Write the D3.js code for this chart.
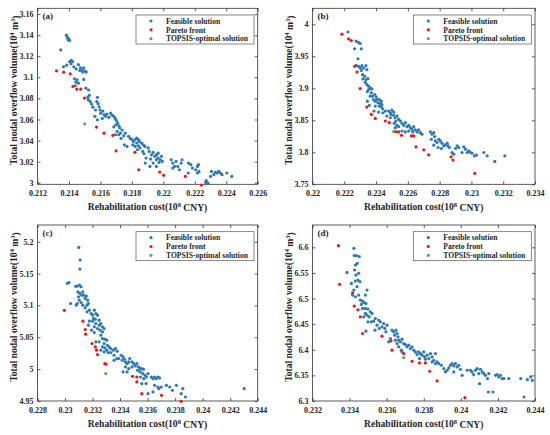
<!DOCTYPE html>
<html>
<head>
<meta charset="utf-8">
<script src="https://cdn.jsdelivr.net/npm/d3@7"></script>
<style>
    body { margin: 0; background: #fff; }
    text { font-family: "Liberation Serif", "Times New Roman", serif; font-weight: bold; fill: #262626; }
</style>
</head>
<body>
<svg id="chart" width="550" height="435"></svg>
<script>
// ---- data: [rehabilitation cost (1e8 CNY), total nodal overflow volume (1e4 m3)] ----
const feasibleA = [
    [0.21384,3.140],[0.21390,3.138],[0.21396,3.137],[0.21400,3.136],[0.21404,3.135],[0.21394,3.1355],
    [0.21348,3.126],
    [0.21365,3.110],[0.21385,3.1115],[0.21404,3.115],[0.21415,3.116],[0.21423,3.115],[0.21413,3.113],[0.21431,3.110],
    [0.21446,3.108],[0.21460,3.112],[0.21473,3.109],[0.21483,3.107],[0.21494,3.109],[0.21502,3.106],[0.21510,3.105],
    [0.21488,3.105],[0.21469,3.1065],
    [0.21435,3.0986],[0.21444,3.0955],[0.21452,3.0976],[0.21460,3.0945],[0.21494,3.098],[0.21440,3.092],[0.21508,3.0897],
    [0.21525,3.088],[0.21530,3.083],[0.21520,3.081],[0.21523,3.0787],[0.21535,3.077],[0.21544,3.0746],[0.21552,3.0717],
    [0.21569,3.069],[0.21581,3.081],[0.21577,3.077],[0.21585,3.075],[0.21592,3.072],[0.21598,3.069],[0.21565,3.063],
    [0.21602,3.066],[0.21615,3.068],[0.21623,3.0645],[0.21633,3.063],[0.21640,3.065],[0.21654,3.062],[0.21612,3.061],
    [0.21581,3.0597],
    [0.21665,3.066],[0.21675,3.064],[0.21685,3.063],[0.21694,3.061],[0.21702,3.059],[0.21710,3.0566],[0.21717,3.054],
    [0.21723,3.052],[0.21698,3.055],[0.21685,3.053],[0.21706,3.0487],[0.21727,3.047],[0.21717,3.0455],[0.21696,3.0455],
    [0.21731,3.042],[0.21738,3.050],[0.21748,3.0445],[0.21752,3.036],[0.21769,3.0344],[0.21758,3.047],[0.21779,3.044],
    [0.21790,3.042],[0.21800,3.041],[0.21810,3.039],[0.21821,3.041],[0.21831,3.0423],[0.21842,3.041],[0.21806,3.036],
    [0.21821,3.0344],[0.21831,3.0376],[0.21842,3.035],[0.21852,3.033],[0.21835,3.0313],[0.21848,3.039],[0.21862,3.0376],
    [0.21873,3.036],[0.21883,3.0344],[0.21869,3.0297],[0.21877,3.0275],[0.21890,3.0234],[0.21885,3.0186],[0.21904,3.033],
    [0.21910,3.0297],[0.21925,3.0265],[0.21935,3.0288],[0.21946,3.025],[0.21956,3.0265],[0.21967,3.028],[0.21919,3.0224],
    [0.21935,3.0186],[0.21956,3.0218],[0.21967,3.0234],[0.21973,3.0193],[0.21981,3.0218],[0.21988,3.025],[0.21994,3.0202],
    [0.21915,3.0155],[0.21956,3.0155],
    [0.22050,3.0218],[0.22060,3.0186],[0.22081,3.0202],[0.22071,3.0155],[0.22092,3.0155],[0.22113,3.0186],[0.22119,3.0218],
    [0.22102,3.0123],[0.22060,3.0139],[0.22160,3.0186],[0.22175,3.0171],[0.22185,3.0139],[0.22158,3.0092],[0.22206,3.0123],
    [0.22217,3.0155],[0.22223,3.0171],[0.22227,3.0107],[0.22217,3.0092],
    [0.22273,3.0019],[0.22285,2.9997],[0.22269,3.0003],[0.22300,3.006],[0.22306,3.0107],[0.22321,3.0076],[0.22331,3.0098],
    [0.22342,3.0092],[0.22352,3.0107],[0.22363,3.0092],[0.22373,3.0076],[0.22404,3.0092],[0.22435,3.006]
];
const paretoA = [
    [0.21321,3.1062],[0.21367,3.1049],[0.21408,3.1033],[0.21425,3.0913],[0.21450,3.0888],[0.21475,3.0888],[0.21498,3.0803],
    [0.21575,3.0528],[0.21623,3.0470],[0.21679,3.0449],[0.21700,3.0303],[0.21819,3.0288],[0.21844,3.0123],[0.21977,3.0101],
    [0.22002,3.0070],[0.22140,3.0060],[0.22242,2.9978]
];
const topsisA = [[0.21500,3.0559]];

const feasibleB = [
    [0.22223,3.988],[0.22275,3.9736],[0.22290,3.9715],[0.22300,3.970],[0.22307,3.9617],[0.22265,3.9617],[0.22286,3.9462],
    [0.22275,3.9358],[0.22290,3.9343],[0.22300,3.9317],[0.22311,3.9353],[0.22321,3.9317],[0.22336,3.9353],[0.22342,3.9291],
    [0.22307,3.928],[0.22315,3.9213],[0.22328,3.9187],[0.22336,3.9136],[0.22349,3.9151],[0.22317,3.9146],[0.22332,3.9094],
    [0.22342,3.9058],[0.22353,3.9032],[0.22363,3.9006],[0.22353,3.898],[0.22374,3.899],[0.22345,3.8949],[0.22370,3.8929],
    [0.22363,3.8877],[0.22378,3.8877],[0.22391,3.8903],[0.22401,3.8866],[0.22384,3.8825],[0.22345,3.8799],[0.22395,3.8799],
    [0.22405,3.8825],[0.22412,3.8773],[0.22420,3.8825],[0.22426,3.8763],[0.22433,3.8799],[0.22437,3.8747],[0.22420,3.8722],
    [0.22433,3.8711],[0.22441,3.868],[0.22395,3.8722],[0.22357,3.8732],[0.22387,3.8644],[0.22416,3.8628],[0.22443,3.8618],
    [0.22458,3.8644],[0.22479,3.8644],[0.22490,3.8618],[0.22500,3.8659],[0.22511,3.8628],[0.22494,3.8592],[0.22511,3.8577],
    [0.22468,3.8566],[0.22490,3.854],[0.22520,3.854],[0.22532,3.8566],[0.22542,3.8515],[0.22553,3.8489],[0.22525,3.8489],
    [0.22515,3.8452],[0.22532,3.8421],[0.22521,3.8385],[0.22542,3.840],[0.22563,3.8452],[0.22574,3.8421],[0.22584,3.8463],
    [0.22595,3.840],[0.22605,3.8421],[0.22616,3.8385],[0.22626,3.8359],[0.22605,3.8333],[0.22637,3.840],[0.22647,3.8349],
    [0.22658,3.8318],[0.22668,3.8349],[0.22679,3.8307],[0.22563,3.8333],[0.22584,3.8318],[0.22631,3.8318],[0.22689,3.8282],
    [0.22742,3.8318],[0.22752,3.8282],[0.22763,3.8307],[0.22769,3.8245],[0.22748,3.8204],[0.22773,3.8178],[0.22784,3.8152],
    [0.22794,3.8204],[0.22805,3.8178],[0.22815,3.8142],[0.22826,3.810],[0.22836,3.8116],[0.22847,3.8142],[0.22853,3.810],
    [0.22861,3.8075],[0.22811,3.8059],[0.22790,3.8075],[0.22763,3.8111],[0.22878,3.7997],[0.22889,3.7971],[0.22900,3.8059],
    [0.22910,3.810],[0.22920,3.8075],[0.22941,3.7997],[0.22952,3.8085],[0.22962,3.8049],[0.22973,3.7997],[0.22983,3.8023],
    [0.22994,3.7997],[0.23004,3.7987],[0.23019,3.7945],[0.23032,3.7956],[0.23078,3.7997],[0.23099,3.7945],[0.23147,3.7857],
    [0.23210,3.7945]
];
const paretoB = [
    [0.22185,3.9845],[0.22227,3.9772],[0.22244,3.9746],[0.22265,3.9343],[0.22280,3.9255],[0.22300,3.8996],[0.22342,3.8706],
    [0.22370,3.8592],[0.22395,3.8530],[0.22458,3.8489],[0.22483,3.8463],[0.22525,3.8323],[0.22542,3.8318],[0.22560,3.8266],
    [0.22622,3.8256],[0.22637,3.8256],[0.22651,3.8085],[0.22700,3.8038],[0.22731,3.7961],[0.22872,3.7930],[0.22884,3.7878],
    [0.23021,3.7671]
];
const topsisB = [[0.22511,3.8323]];

const feasibleC = [
    [0.23100,5.191],[0.23110,5.1712],[0.23108,5.157],[0.23017,5.1347],[0.23029,5.136],[0.23078,5.130],
    [0.23089,5.1303],[0.23105,5.1319],[0.23117,5.1293],[0.23129,5.1214],[0.23093,5.1214],[0.23108,5.1188],[0.23122,5.1161],
    [0.23098,5.1135],[0.23136,5.1161],[0.23146,5.1109],[0.23155,5.1146],[0.23165,5.1083],[0.23103,5.1083],[0.23117,5.1046],
    [0.23089,5.103],[0.23040,5.103],[0.23081,5.1004],[0.23129,5.1004],[0.23146,5.0962],[0.23160,5.1004],[0.23170,5.103],
    [0.23177,5.0926],[0.23160,5.0899],[0.23189,5.0873],[0.23201,5.0847],[0.23213,5.0926],[0.23224,5.0873],[0.23206,5.0795],
    [0.23220,5.0784],[0.23201,5.0753],[0.23177,5.0753],[0.23236,5.0847],[0.23248,5.0768],[0.23260,5.0716],[0.23272,5.0664],
    [0.23250,5.069],[0.23224,5.0716],[0.23213,5.0664],[0.23236,5.0637],[0.23255,5.0611],[0.23272,5.0585],[0.23284,5.0637],
    [0.23170,5.069],[0.23193,5.0611],[0.23213,5.0574],[0.23260,5.0533],[0.23272,5.048],[0.23289,5.047],[0.23303,5.0454],
    [0.23224,5.0428],[0.23248,5.0428],[0.23284,5.0402],[0.23272,5.0349],[0.23289,5.0333],[0.23308,5.0375],[0.23320,5.0349],
    [0.23332,5.0323],[0.23303,5.0297],[0.23284,5.027],[0.23260,5.0297],[0.23313,5.026],[0.23332,5.026],[0.23351,5.0297],
    [0.23367,5.0323],[0.23379,5.0281],[0.23356,5.0218],[0.23375,5.0166],[0.23391,5.0166],[0.23356,5.0139],[0.23408,5.0218],
    [0.23422,5.0192],[0.23415,5.0139],[0.23432,5.0155],[0.23439,5.0113],[0.23451,5.0087],[0.23463,5.0113],[0.23470,5.0166],
    [0.23487,5.0113],[0.23499,5.0087],[0.23511,5.005],[0.23487,5.0034],[0.23463,5.0008],[0.23439,5.0034],[0.23422,4.9956],
    [0.23451,4.9956],[0.23522,5.0087],[0.23534,5.0034],[0.23546,5.0008],[0.23527,4.9982],[0.23546,4.9956],[0.23558,5.0008],
    [0.23570,4.9998],[0.23565,4.993],[0.23582,4.9904],[0.23548,4.9877],[0.23572,4.9851],[0.23591,4.9877],[0.23603,4.993],
    [0.23558,4.9773],[0.23589,4.9773],[0.23627,4.9877],[0.23639,4.9851],[0.23651,4.9877],[0.23663,4.9851],[0.23675,4.9877],
    [0.23687,4.9862],[0.23651,4.9746],[0.23675,4.972],[0.23682,4.9694],[0.23699,4.972],[0.23639,4.9642],[0.23603,4.9615],
    [0.23737,4.9746],[0.23761,4.972],[0.23780,4.9668],[0.23809,4.9746],[0.23856,4.9694],[0.23844,4.9615],[0.23875,4.9563],
    [0.24302,4.9694]
];
const paretoC = [
    [0.22995,5.0923],[0.23130,5.0753],[0.23147,5.0622],[0.23150,5.0548],[0.23196,5.0402],[0.23220,5.0349],[0.23229,5.0297],
    [0.23236,5.0228],[0.23289,5.0087],[0.23298,5.0077],[0.23491,4.9888],[0.23522,4.9877],[0.23522,4.9799],[0.23558,4.9615],
    [0.23701,4.9589],[0.23844,4.9495]
];
const topsisC = [[0.23296,4.9930]];

const feasibleD = [
    [0.23423,6.598],[0.23425,6.584],[0.23437,6.584],[0.23452,6.582],[0.23432,6.5655],[0.23441,6.5688],[0.23427,6.5557],
    [0.23449,6.5492],[0.23434,6.5459],[0.23445,6.5361],[0.23456,6.5329],[0.23431,6.5342],[0.23410,6.5296],[0.23386,6.5511],
    [0.23440,6.5231],[0.23423,6.5166],[0.23416,6.5068],[0.23431,6.5035],[0.23449,6.5068],[0.23458,6.497],[0.23470,6.495],
    [0.23476,6.4924],[0.23488,6.4905],[0.23494,6.5166],[0.23485,6.5068],[0.23463,6.4885],[0.23470,6.4807],[0.23485,6.4807],
    [0.23499,6.4794],[0.23512,6.4742],[0.23521,6.4709],[0.23485,6.4709],[0.23494,6.4676],[0.23506,6.4644],[0.23517,6.4546],
    [0.23499,6.4546],[0.23530,6.4559],[0.23539,6.4611],[0.23476,6.4644],[0.23488,6.4363],[0.23548,6.4481],[0.23557,6.4579],
    [0.23566,6.4546],[0.23560,6.4416],[0.23575,6.4448],[0.23584,6.4513],[0.23590,6.4416],[0.23596,6.435],[0.23602,6.4481],
    [0.23537,6.4383],[0.23611,6.4155],[0.23620,6.422],[0.23629,6.4383],[0.23638,6.435],[0.23643,6.4285],[0.23650,6.4383],
    [0.23656,6.4318],[0.23661,6.4252],[0.23647,6.4187],[0.23665,6.4187],[0.23674,6.4155],[0.23683,6.4207],[0.23656,6.4122],
    [0.23665,6.4057],[0.23679,6.3992],[0.23692,6.4122],[0.23701,6.4102],[0.23710,6.4057],[0.23719,6.4089],[0.23728,6.4024],
    [0.23683,6.3959],[0.23737,6.4057],[0.23746,6.3992],[0.23755,6.3959],[0.23764,6.3907],[0.23773,6.3959],[0.23782,6.3926],
    [0.23791,6.3894],[0.23800,6.3959],[0.23805,6.3861],[0.23777,6.3828],[0.23809,6.3815],[0.23818,6.3894],[0.23827,6.3828],
    [0.23836,6.3926],[0.23845,6.3861],[0.23854,6.3796],[0.23863,6.3926],[0.23845,6.3763],[0.23863,6.3731],[0.23872,6.3763],
    [0.23881,6.3731],[0.23895,6.3698],[0.23908,6.3633],[0.23917,6.3568],[0.23926,6.360],[0.23935,6.3646],[0.23944,6.3698],
    [0.23953,6.3731],[0.23962,6.3685],[0.23971,6.3731],[0.23980,6.3665],[0.23989,6.3698],[0.23962,6.3568],[0.23998,6.362],
    [0.24007,6.3502],[0.24034,6.360],[0.24052,6.360],[0.24060,6.3568],[0.24069,6.3515],[0.24079,6.360],[0.24088,6.3633],
    [0.24097,6.3535],[0.24106,6.362],[0.24101,6.3339],[0.24115,6.3568],[0.24124,6.3535],[0.24133,6.3502],[0.24144,6.3437],
    [0.24151,6.3535],[0.24148,6.3176],[0.24173,6.3176],[0.24187,6.3502],[0.24196,6.3515],[0.24205,6.347],[0.24214,6.3502],
    [0.24223,6.3437],[0.24232,6.3437],[0.24259,6.3437],[0.24323,6.3437],[0.24341,6.3078],[0.24359,6.3417],[0.24377,6.347],
    [0.24386,6.3404]
];
const paretoD = [
    [0.23340,6.6033],[0.23346,6.5277],[0.23416,6.5113],[0.23425,6.4853],[0.23445,6.4781],[0.23458,6.4644],[0.23470,6.4318],
    [0.23575,6.4266],[0.23623,6.4174],[0.23629,6.3992],[0.23692,6.3926],[0.23737,6.3776],[0.23777,6.3744],[0.23809,6.3744],
    [0.23832,6.3581],[0.23872,6.3391],[0.24022,6.3065]
];
const topsisD = [[0.23692,6.3848]];

// tick labels
const xTicksA = [0.212, 0.214, 0.216, 0.218, 0.22, 0.222, 0.224, 0.226];
const yTicksA = [3, 3.02, 3.04, 3.06, 3.08, 3.1, 3.12, 3.14, 3.16];
const xTicksB = [0.22, 0.222, 0.224, 0.226, 0.228, 0.23, 0.232, 0.234];
const yTicksB = [3.75, 3.8, 3.85, 3.9, 3.95, 4];
const xTicksC = [0.228, 0.23, 0.232, 0.234, 0.236, 0.238, 0.24, 0.242, 0.244];
const yTicksC = [4.95, 5, 5.05, 5.1, 5.15, 5.2];
const xTicksD = [0.232, 0.234, 0.236, 0.238, 0.24, 0.242, 0.244];
const yTicksD = [6.3, 6.35, 6.4, 6.45, 6.5, 6.55, 6.6];

const seriesNames = ['Feasible solution', 'Pareto front', 'TOPSIS-optimal solution'];
const seriesColors = ['#2b78ba', '#f01414', '#4fb050'];

const panels = [
    { tag: '(a)', series: [feasibleA, paretoA, topsisA], xTicks: xTicksA, yTicks: yTicksA,
      xDomain: [0.212, 0.226], yDomain: [2.9985, 3.1655], box: [37.5, 8.3, 257.7, 184.3] },
    { tag: '(b)', series: [feasibleB, paretoB, topsisB], xTicks: xTicksB, yTicks: yTicksB,
      xDomain: [0.22, 0.234], yDomain: [3.75, 4.025], box: [312.5, 8.3, 535, 184.3] },
    { tag: '(c)', series: [feasibleC, paretoC, topsisC], xTicks: xTicksC, yTicks: yTicksC,
      xDomain: [0.228, 0.244], yDomain: [4.95, 5.2262], box: [37.5, 225, 257.7, 401] },
    { tag: '(d)', series: [feasibleD, paretoD, topsisD], xTicks: xTicksD, yTicks: yTicksD,
      xDomain: [0.232, 0.244], yDomain: [6.3, 6.6436], box: [312.5, 225, 535, 401] }
];

const svg = d3.select('#chart');
const dotR = 1.6;

panels.forEach(p => {
    const [x0, y0, x1, y1] = p.box;
    const x = d3.scaleLinear().domain(p.xDomain).range([x0, x1]);
    const y = d3.scaleLinear().domain(p.yDomain).range([y1, y0]);
    const g = svg.append('g');

    // frame
    g.append('rect')
        .attr('x', x0).attr('y', y0)
        .attr('width', x1 - x0).attr('height', y1 - y0)
        .attr('fill', 'none').attr('stroke', '#333').attr('stroke-width', 0.8);

    // axes, ticks pointing inward on all four sides
    const styleAxis = sel => {
        sel.select('.domain').remove();
        sel.selectAll('.tick line').attr('stroke', '#333').attr('stroke-width', 0.8);
        sel.selectAll('.tick text').attr('font-size', '8px')
            .attr('font-family', '"Liberation Serif", serif').attr('fill', '#262626');
    };
    g.append('g').attr('transform', `translate(0,${y1})`)
        .call(d3.axisBottom(x).tickValues(p.xTicks).tickFormat(String).tickSizeInner(-3).tickSizeOuter(0).tickPadding(6.3))
        .call(styleAxis);
    g.append('g').attr('transform', `translate(0,${y0})`)
        .call(d3.axisTop(x).tickValues(p.xTicks).tickFormat('').tickSizeInner(-3).tickSizeOuter(0))
        .call(styleAxis);
    g.append('g').attr('transform', `translate(${x0},0)`)
        .call(d3.axisLeft(y).tickValues(p.yTicks).tickFormat(String).tickSizeInner(-3).tickSizeOuter(0).tickPadding(4))
        .call(styleAxis);
    g.append('g').attr('transform', `translate(${x1},0)`)
        .call(d3.axisRight(y).tickValues(p.yTicks).tickFormat('').tickSizeInner(-3).tickSizeOuter(0))
        .call(styleAxis);

    // points
    p.series.forEach((pts, i) => {
        g.append('g').selectAll('circle')
            .data(pts)
            .join('circle')
            .attr('cx', d => x(d[0]))
            .attr('cy', d => y(d[1]))
            .attr('r', dotR)
            .attr('fill', seriesColors[i]);
    });

    // panel tag
    g.append('text').attr('x', x0 + 5).attr('y', y0 + 11)
        .attr('font-size', '9px').text(p.tag);

    // axis labels
    const xl = g.append('text')
        .attr('x', (x0 + x1) / 2).attr('y', y1 + 25.5)
        .attr('text-anchor', 'middle').attr('font-size', '9.6px');
    xl.append('tspan').text('Rehabilitation cost(10');
    xl.append('tspan').attr('dy', '-0.4em').attr('font-size', '6.5px').text('8');
    xl.append('tspan').attr('dy', '0.4em').text(' CNY)');

    const yc = (y0 + y1) / 2 - 6;
    const yl = g.append('text')
        .attr('transform', `translate(${x0 - 21},${yc}) rotate(-90)`)
        .attr('text-anchor', 'middle').attr('font-size', '9.6px');
    yl.append('tspan').text('Total nodal overflow volume(10');
    yl.append('tspan').attr('dy', '-0.4em').attr('font-size', '6.5px').text('4');
    yl.append('tspan').attr('dy', '0.4em').text(' m');
    yl.append('tspan').attr('dy', '-0.4em').attr('font-size', '6.5px').text('3');
    yl.append('tspan').attr('dy', '0.4em').text(')');

    // legend
    const lx = x1 - 121.7, ly = y0 + 6.7;
    const lg = g.append('g').attr('transform', `translate(${lx},${ly})`);
    lg.append('rect').attr('width', 118).attr('height', 29)
        .attr('fill', '#fff').attr('stroke', '#555').attr('stroke-width', 0.7);
    seriesNames.forEach((name, i) => {
        const ry = 6 + i * 8.8;
        lg.append('circle').attr('cx', 15).attr('cy', ry).attr('r', dotR).attr('fill', seriesColors[i]);
        lg.append('text').attr('x', 30).attr('y', ry + 2.7)
            .attr('font-size', '7.6px').text(name);
    });
});
</script>
</body>
</html>
